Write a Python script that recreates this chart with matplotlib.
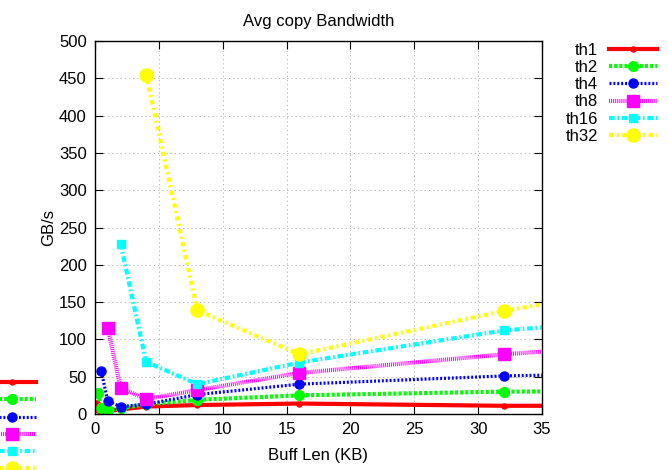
import matplotlib
matplotlib.use("Agg")
import matplotlib.pyplot as plt

plt.rcParams['font.family'] = ['Liberation Sans', 'DejaVu Sans']
plt.rcParams['lines.scale_dashes'] = False

# buffer sizes in KB, each thread count starts at a different size
th1_x = [0.125, 0.25, 0.5, 1, 2, 4, 8, 16, 32, 64]
th1_y = [15, 5, 3, 4, 6, 10, 12, 14, 11, 11]
th2_x = [0.25, 0.5, 1, 2, 4, 8, 16, 32, 64]
th2_y = [28, 8, 5, 8, 13, 19, 25, 30, 31]
th4_x = [0.5, 1, 2, 4, 8, 16, 32, 64]
th4_y = [57, 17, 10, 13, 26, 40, 51, 62]
th8_x = [1, 2, 4, 8, 16, 32, 64]
th8_y = [115, 35, 20, 32, 55, 80, 117]
th16_x = [2, 4, 8, 16, 32, 64]
th16_y = [228, 70, 40, 69, 112, 155]
th32_x = [4, 8, 16, 32, 64]
th32_y = [455, 139, 80, 138, 234]

labels = ['th1', 'th2', 'th4', 'th8', 'th16', 'th32']
colors = ['#ff0000', '#00ff00', '#0000ff', '#ff00ff', '#00ffff', '#ffff00']

fs = 12

fig = plt.figure(figsize=(6.68, 4.70), dpi=100)
ax = fig.add_axes([95/668, 56/470, 447/668, 373/470])

lines = []
lines += ax.plot(th1_x, th1_y, color=colors[0], lw=3, marker='o', ms=3.6, label=labels[0])
lines += ax.plot(th2_x, th2_y, color=colors[1], lw=3, dashes=(2.2, 1.5), marker='o', ms=7, label=labels[1])
lines += ax.plot(th4_x, th4_y, color=colors[2], lw=2.3, dashes=(1.4, 1.4), marker='o', ms=6.5, label=labels[2])
lines += ax.plot(th8_x, th8_y, color=colors[3], lw=3, dashes=(0.7, 0.7), marker='s', ms=8.5, label=labels[3])
lines += ax.plot(th16_x, th16_y, color=colors[4], lw=3, dashes=(4, 2, 1.2, 2), marker='s', ms=6, label=labels[4])
lines += ax.plot(th32_x, th32_y, color=colors[5], lw=3, dashes=(3, 2.5, 1.5, 2.5), marker='o', ms=9.5, label=labels[5])

ax.set_xlim(0, 35)
ax.set_ylim(0, 500)
ax.set_xticks(range(0, 36, 5))
ax.set_yticks(range(0, 501, 50))
ax.grid(True, color='#b0b0b0', linestyle=(0, (1, 2)), linewidth=0.6)
ax.tick_params(direction='in', length=6, top=True, right=True, labelsize=fs, pad=6)
for s in ax.spines.values():
    s.set_linewidth(1)

ax.set_title('Avg copy Bandwidth', fontsize=fs, pad=11)
ax.set_xlabel('Buff Len (KB)', fontsize=fs, labelpad=8)
ax.set_ylabel('GB/s', fontsize=fs, labelpad=2)

hl = 48 / (fs * 100 / 72)

fig.legend(handles=lines, labels=labels, loc='upper right',
           bbox_to_anchor=(657/668, 1 - 43/470), frameon=False, markerfirst=False,
           fontsize=fs, handlelength=hl, handletextpad=0.65, labelspacing=0.13,
           borderpad=0, borderaxespad=0)

# second key, pushed off the left edge so only the line samples show
fig.legend(handles=lines, labels=[''] * 6, loc='upper left',
           bbox_to_anchor=(-12/668, 1 - 376/470), frameon=False,
           fontsize=fs, handlelength=hl, handletextpad=0.65, labelspacing=0.13,
           borderpad=0, borderaxespad=0)

fig.savefig('out.png', dpi=100)
